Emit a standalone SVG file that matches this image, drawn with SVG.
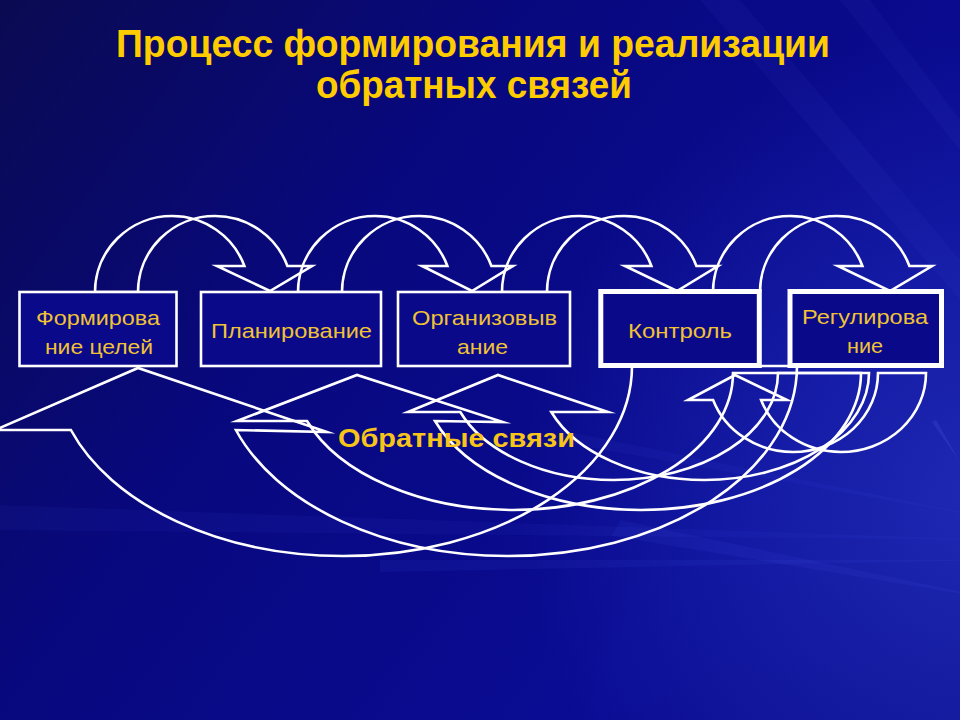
<svg xmlns="http://www.w3.org/2000/svg" width="960" height="720" viewBox="0 0 960 720">
<defs>
  <linearGradient id="bg" x1="0" y1="0" x2="960" y2="720" gradientUnits="userSpaceOnUse">
    <stop offset="0" stop-color="#0a0a52"/>
    <stop offset="0.35" stop-color="#08087e"/>
    <stop offset="0.75" stop-color="#0a0c94"/>
    <stop offset="1" stop-color="#0a0c8a"/>
  </linearGradient>
  <radialGradient id="glow" cx="990" cy="500" r="470" gradientUnits="userSpaceOnUse">
    <stop offset="0" stop-color="#2c3ccc" stop-opacity="0.6"/>
    <stop offset="1" stop-color="#2c3ccc" stop-opacity="0"/>
  </radialGradient>
  <style>
    .ln{fill:none;stroke:#ffffff;stroke-width:2.6;stroke-linejoin:miter;stroke-miterlimit:10}
    .box{fill:#09098a;stroke:#ffffff}
    .thin{stroke-width:2.6}
    .thick{stroke-width:5}
    .bt{font-family:"Liberation Sans",Arial,sans-serif;font-size:21px;fill:#F0C234}
    .title{font-family:"Liberation Sans Narrow","Liberation Sans",Arial,sans-serif;font-weight:bold;font-size:39px;fill:#FFCC00}
    .lbl{font-family:"Liberation Sans",Arial,sans-serif;font-weight:bold;font-size:26px;fill:#F7C51A}
    .ray{fill:#5a6cff}
  </style>
</defs>

<g id="background">
  <rect x="0" y="0" width="960" height="720" fill="url(#bg)"/>
  <rect x="0" y="0" width="960" height="720" fill="url(#glow)"/>
  <polygon class="ray" opacity="0.06" points="1000,540 0,505 0,530"/>
  <polygon class="ray" opacity="0.07" points="1000,560 380,560 380,572"/>
  <polygon class="ray" opacity="0.06" points="1000,520 560,430 560,442"/>
  <polygon class="ray" opacity="0.08" points="1000,600 620,520 612,536"/>
  <polygon class="ray" opacity="0.18" points="960,462 932,422 936,420"/>
  <polygon class="ray" opacity="0.05" points="700,0 740,0 960,260 960,300"/>
  <polygon class="ray" opacity="0.05" points="840,0 870,0 960,120 960,150"/>
</g>

<g id="title">
  <text class="title" x="116" y="57" textLength="714" lengthAdjust="spacingAndGlyphs">Процесс формирования и реализации</text>
  <text class="title" x="316" y="98" textLength="316" lengthAdjust="spacingAndGlyphs">обратных связей</text>
</g>

<g id="connectors">
  <!-- forward curved arrows (top) -->
  <path class="ln" d="M95,292 A77,76 0 0 1 172,216 A77,76 0 0 1 244.4,266 L217,266 L270,291 L312,266 L287.4,266 A77,76 0 0 0 215,216 A77,76 0 0 0 138,292 Z"/>
  <path class="ln" d="M298,292 A77,76 0 0 1 375,216 A77,76 0 0 1 447.4,266 L422,266 L472,291 L513,266 L491.4,266 A77,76 0 0 0 419,216 A77,76 0 0 0 342,292 Z"/>
  <path class="ln" d="M502,292 A77,76 0 0 1 579,216 A77,76 0 0 1 651.4,266 L625,266 L677,291 L718,266 L696.4,266 A77,76 0 0 0 624,216 A77,76 0 0 0 547,292 Z"/>
  <path class="ln" d="M713,292 A77,76 0 0 1 790,216 A77,76 0 0 1 862.4,266 L838,266 L890,291 L932,266 L909.4,266 A77,76 0 0 0 837,216 A77,76 0 0 0 760,292 Z"/>
  <!-- feedback curved arrows (bottom) -->
  <path class="ln" d="M70.9,430 A289,190 0 0 0 343,556 A289,190 0 0 0 632,366 L797,366 A289,190 0 0 1 508,556 A289,190 0 0 1 235.9,430 L327,432 L138,368 L-5,430 Z"/>
  <path class="ln" d="M307,421 A220,137 0 0 0 513,510 A220,137 0 0 0 733,373 L861,373 A220,137 0 0 1 641,510 A220,137 0 0 1 435,421 L503,422 L357,375 L237,421 Z"/>
  <path class="ln" d="M460.3,412 A164.5,107 0 0 0 613.5,480 A164.5,107 0 0 0 778,373 L869,373 A164.5,107 0 0 1 704.5,480 A164.5,107 0 0 1 551.3,412 L608,412 L498,375 L408,412 Z"/>
  <path class="ln" d="M713.1,400 A85,79 0 0 0 793,452 A85,79 0 0 0 878,373 L926,373 A85,79 0 0 1 841,452 A85,79 0 0 1 761.1,400 L787,400 L735,375 L688,400 Z"/>
</g>

<g id="node-goals">
  <rect class="box thin" x="19.5" y="292" width="157" height="74"/>
  <text class="bt" x="36" y="325" textLength="124" lengthAdjust="spacingAndGlyphs">Формирова</text>
  <text class="bt" x="45" y="354" textLength="108" lengthAdjust="spacingAndGlyphs">ние целей</text>
</g>
<g id="node-planning">
  <rect class="box thin" x="201" y="292" width="180" height="74"/>
  <text class="bt" x="211" y="338" textLength="161" lengthAdjust="spacingAndGlyphs">Планирование</text>
</g>
<g id="node-organizing">
  <rect class="box thin" x="398" y="292" width="172" height="74"/>
  <text class="bt" x="412" y="325" textLength="145" lengthAdjust="spacingAndGlyphs">Организовыв</text>
  <text class="bt" x="457" y="354" textLength="51" lengthAdjust="spacingAndGlyphs">ание</text>
</g>
<g id="node-control">
  <rect class="box thick" x="600.8" y="291.5" width="158.5" height="74"/>
  <text class="bt" x="628" y="338" textLength="104" lengthAdjust="spacingAndGlyphs">Контроль</text>
</g>
<g id="node-regulation">
  <rect class="box thick" x="790" y="291.5" width="151.5" height="74"/>
  <text class="bt" x="802" y="324" textLength="126" lengthAdjust="spacingAndGlyphs">Регулирова</text>
  <text class="bt" x="847" y="353" textLength="36" lengthAdjust="spacingAndGlyphs">ние</text>
</g>

<g id="label">
  <text class="lbl" x="338" y="447" textLength="237" lengthAdjust="spacingAndGlyphs">Обратные связи</text>
</g>
</svg>
